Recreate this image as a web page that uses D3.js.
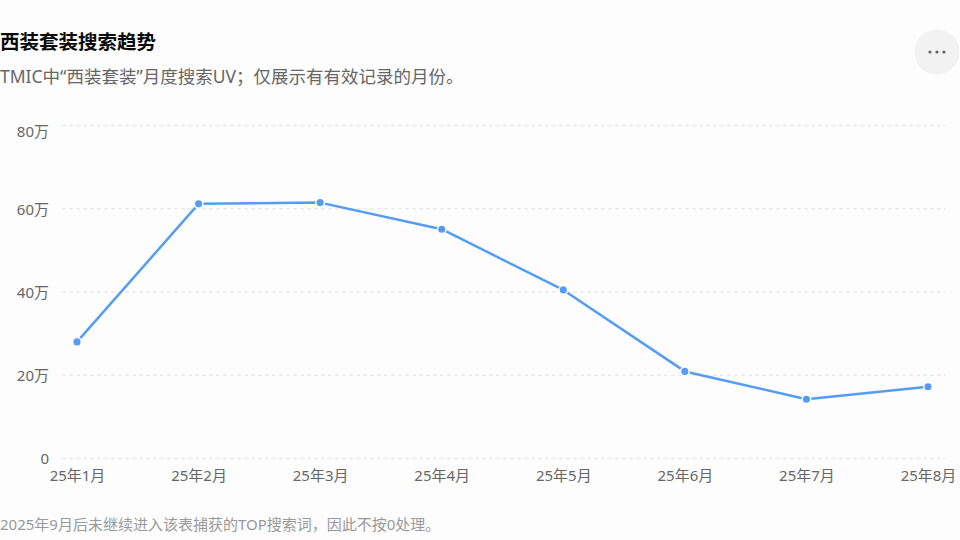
<!DOCTYPE html>
<html><head><meta charset="utf-8">
<script src="https://cdn.jsdelivr.net/npm/d3@7/dist/d3.min.js"></script>
<style>
html,body{margin:0;padding:0;background:#fdfdfd;}
svg{display:block;font-family:"Noto Sans","Noto Sans CJK SC",sans-serif;}
</style></head>
<body>
<svg id="c" width="960" height="540"></svg>
<script>
const months = ["25年1月","25年2月","25年3月","25年4月","25年5月","25年6月","25年7月","25年8月"];
const searchUV = [280000, 612000, 615000, 551000, 405000, 209000, 142000, 172000];
const yTicks = [0, 200000, 400000, 600000, 800000];
const titleText = "西装套装搜索趋势";
const subtitleText = "TMIC中“西装套装”月度搜索UV；仅展示有有效记录的月份。";
const footText = "2025年9月后未继续进入该表捕获的TOP搜索词，因此不按0处理。";
const FONT = '"Noto Sans","Noto Sans CJK SC",sans-serif';

const svg = d3.select("#c");
svg.append("rect").attr("width",960).attr("height",540).attr("fill","#fdfdfd");

const x = d3.scalePoint().domain(months).range([77, 928]);
const y = d3.scaleLinear().domain([0, 800000]).range([458.3, 125.7]);
const fmt = v => v === 0 ? "0" : (v/10000) + "万";

// title
svg.append("text").attr("x",0).attr("y",49).attr("font-size",19.5).attr("font-weight","bold")
  .attr("fill","#0a0a0a").text(titleText);
svg.append("text").attr("x",0).attr("y",83).attr("font-size",17.5)
  .attr("fill","#666").text(subtitleText);

// more button
const mb = svg.append("g").attr("transform","translate(937,52)");
mb.append("circle").attr("r",22.5).attr("fill","#f2f2f2");
[-7,0,7].forEach(dx => mb.append("circle").attr("cx",dx).attr("r",1.6).attr("fill","#666"));

// grid
const grid = svg.append("g");
grid.selectAll("line").data(yTicks).join("line")
  .attr("x1",62).attr("x2",945).attr("y1",d=>y(d)).attr("y2",d=>y(d))
  .attr("stroke","#e3e3e3").attr("stroke-width",1).attr("stroke-dasharray","4,3");

// y axis
const yAxis = d3.axisLeft(y).tickValues(yTicks).tickFormat(fmt).tickSize(0).tickPadding(0);
const gy = svg.append("g").attr("transform","translate(49,0)").call(yAxis);
gy.select(".domain").remove();
gy.selectAll("text").attr("font-size",15).attr("fill","#666")
  .attr("font-family",FONT)
  .attr("dy", d => d === 800000 ? "0.72em" : "0.35em");

// x axis
const xAxis = d3.axisBottom(x).tickSize(0).tickPadding(0);
const gx = svg.append("g").attr("transform","translate(0,473)").call(xAxis);
gx.select(".domain").remove();
gx.selectAll("text").attr("font-size",15).attr("fill","#666")
  .attr("font-family",FONT).attr("dy","0.5em");

// line
const data = months.map((m,i)=>({m, v: searchUV[i]}));
svg.append("path").datum(data)
  .attr("d", d3.line().x(d=>x(d.m)).y(d=>y(d.v)))
  .attr("fill","none").attr("stroke","#559cf5").attr("stroke-width",2.5)
  .attr("stroke-linejoin","round");
svg.append("g").selectAll("circle").data(data).join("circle")
  .attr("cx",d=>x(d.m)).attr("cy",d=>y(d.v)).attr("r",4.3)
  .attr("fill","#559cf5").attr("stroke","#fff").attr("stroke-width",1.5);

// footnote
svg.append("text").attr("x",0).attr("y",530).attr("font-size",15)
  .attr("fill","#999").text(footText);
</script>
</body></html>
